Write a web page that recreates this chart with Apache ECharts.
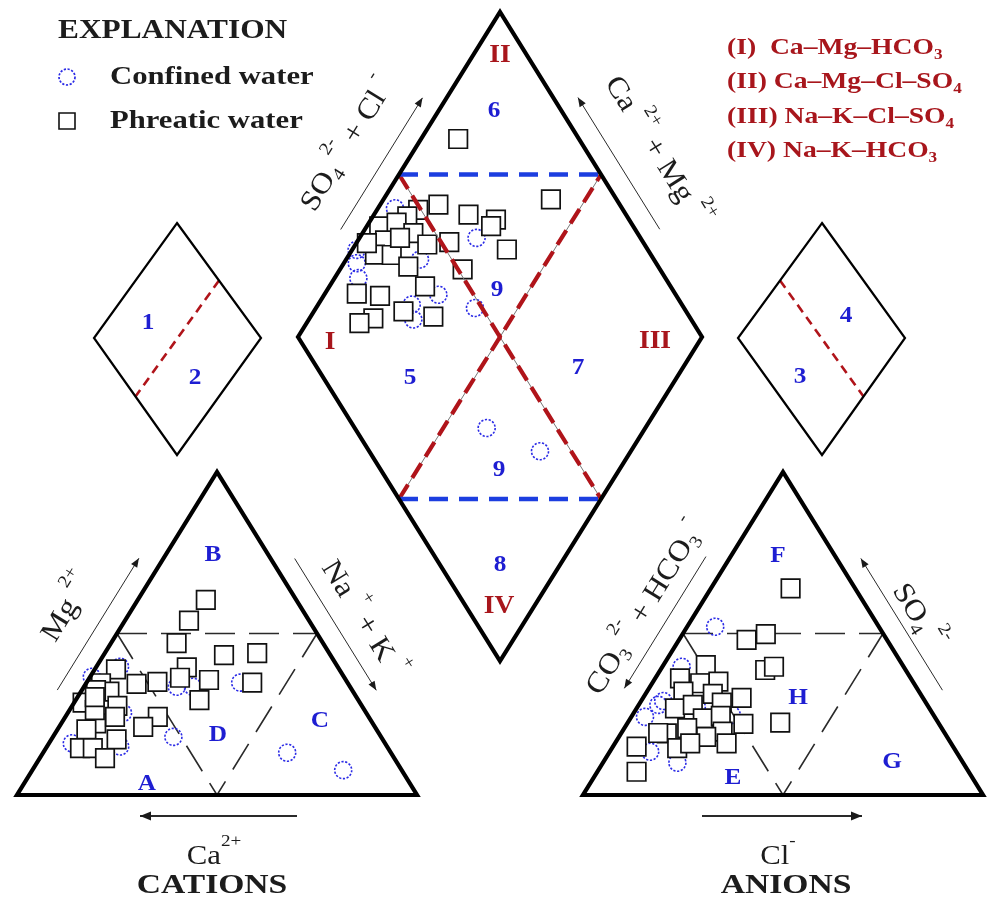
<!DOCTYPE html>
<html>
<head>
<meta charset="utf-8">
<title>Piper diagram</title>
<script src="https://cdn.jsdelivr.net/npm/echarts@6/dist/echarts.min.js"></script>
<style>
  html, body { margin: 0; padding: 0; background: #fff; }
  #chart { width: 988px; height: 904px; }
</style>
</head>
<body>
<div id="chart"></div>
<script>
// ---------------------------------------------------------------
// Sample compositions (meq %)
// Cation triangle: [Na+K, Mg]; Ca is the remainder
const cationConfined = [
  [0.4, 36.6], [5.9, 39.7], [38.4, 34.8], [30.1, 18.0], [5.7, 16.0], [18.3, 15.0],
  [23.2, 33.5], [27.2, 33.5], [61.0, 13.1], [77.7, 7.7], [13.8, 25.4]
];
const cationPhreatic = [
  [17.0, 60.4], [16.0, 54.0], [16.4, 47.0], [30.1, 43.3], [38.1, 43.9], [22.7, 39.5],
  [30.2, 35.6], [41.4, 34.8], [22.6, 36.3], [17.6, 35.0], [12.7, 34.4], [30.9, 29.4],
  [5.3, 38.9], [3.7, 34.6], [7.1, 32.0], [2.1, 28.6], [11.3, 27.6], [23.1, 24.2],
  [21.0, 21.1], [8.7, 22.2], [12.4, 24.2], [7.2, 20.3], [16.3, 17.2], [8.5, 14.5],
  [11.7, 14.5], [16.3, 11.4], [6.3, 26.3], [3.5, 32.5], [4.3, 30.3]
];
// Anion triangle: [Cl, SO4]; CO3+HCO3 is the remainder
const anionConfined = [
  [7.0, 52.1], [4.8, 39.7], [4.9, 27.9], [3.4, 24.2], [18.6, 10.0], [10.1, 13.4],
  [14.8, 27.3], [24.8, 24.8], [5.5, 29.1]
];
const anionPhreatic = [
  [19.9, 64.0], [16.9, 48.0], [20.8, 49.8], [26.2, 38.7], [27.9, 39.7], [24.6, 30.1],
  [38.1, 22.4], [29.1, 22.0], [5.9, 15.0], [9.8, 7.2], [10.6, 40.2], [6.2, 36.1],
  [12.0, 34.6], [16.3, 35.1], [9.1, 32.0], [16.8, 31.3], [9.6, 26.8], [13.5, 27.9],
  [20.4, 28.6], [18.1, 23.7], [22.2, 24.5], [11.4, 19.1], [15.7, 20.7], [25.1, 19.6],
  [16.3, 14.5], [21.8, 18.0], [18.8, 16.0], [27.9, 16.0], [9.2, 19.2]
];
// Central diamond: [Na+K, SO4+Cl]
const diamondConfined = [
  [4.2, 43.8], [29.0, 59.4], [28.3, 41.2], [39.4, 48.2], [1.1, 27.9], [3.2, 25.9],
  [5.9, 24.0], [25.9, 31.2], [23.2, 33.1], [18.3, 42.1], [60.8, 32.6], [77.6, 42.2]
];
const diamondPhreatic = [
  [9.2, 70.1], [41.5, 83.7], [14.4, 55.1], [23.4, 61.0], [31.0, 67.0], [30.8, 64.8],
  [10.2, 49.3], [8.5, 45.6], [3.1, 37.1], [6.8, 42.0], [12.6, 44.5], [17.8, 46.2],
  [22.9, 52.0], [6.7, 36.4], [6.4, 31.7], [10.6, 35.8], [16.5, 38.1], [30.4, 51.1],
  [38.3, 65.1], [23.7, 39.2], [7.9, 21.2], [14.0, 26.6], [22.2, 30.0], [30.4, 36.6],
  [15.8, 21.5], [13.1, 17.3], [2.6, 31.5], [10.0, 40.5]
];

const seriesNames = ['Confined water', 'Phreatic water'];
const cationRegions = ['A', 'B', 'C', 'D'];
const anionRegions = ['E', 'F', 'G', 'H'];
const waterTypes = ['(I)  Ca–Mg–HCO|3', '(II) Ca–Mg–Cl–SO|4', '(III) Na–K–Cl–SO|4', '(IV) Na–K–HCO|3'];

// ---------------------------------------------------------------
// Plot frame geometry (axis units = pixels of the drawing area)
const CAT = { l: [17, 795], r: [417, 795], t: [217, 472] };
const AN = { l: [583, 795], r: [983, 795], t: [783, 472] };
const DIA = { l: [298, 337], b: [500, 661], t: [500, 12], r: [702, 337] };
const SL = { t: [177, 223], l: [94, 338], r: [261, 338], b: [177, 455] };
const SR = { t: [822, 223], l: [738, 338], r: [905, 338], b: [822, 455] };

const mid = (a, b) => [(a[0] + b[0]) / 2, (a[1] + b[1]) / 2];

// ternary -> plane: share a toward right vertex, share b toward top vertex
function triPoint(T) {
  return function (v) {
    const a = v[0] / 100, b = v[1] / 100;
    return [T.l[0] + a * (T.r[0] - T.l[0]) + b * (T.t[0] - T.l[0]),
            T.l[1] + a * (T.r[1] - T.l[1]) + b * (T.t[1] - T.l[1])];
  };
}
function diaPoint(v) {
  const u = v[0] / 100, w = v[1] / 100;
  return [DIA.l[0] + u * (DIA.b[0] - DIA.l[0]) + w * (DIA.t[0] - DIA.l[0]),
          DIA.l[1] + u * (DIA.b[1] - DIA.l[1]) + w * (DIA.t[1] - DIA.l[1])];
}

// ---------------------------------------------------------------
// Colours
const BLUE = '#1e1ed2';
const RED = '#a8161c';
const CIRCLE = '#2b2be6';

function scatter(name, data, conv, square) {
  return {
    type: 'scatter',
    name: name,
    data: data.map(conv),
    symbol: square ? 'rect' : 'circle',
    symbolSize: square ? 18.5 : 17,
    itemStyle: square
      ? { color: '#ffffff', borderColor: '#111111', borderWidth: 1.7, opacity: 1 }
      : { color: 'rgba(255,255,255,0)', borderColor: CIRCLE, borderWidth: 1.6, borderType: [2.2, 1.6], opacity: 1 },
    z: square ? 4 : 3,
    silent: true,
    animation: false
  };
}

// ---------------------------------------------------------------
// Text helpers: parts are [text, kind] with kind '' | '^' (superscript) | '_' (subscript)
const FAM = '"Liberation Serif", "Times New Roman", Times, serif';
const mctx = document.createElement('canvas').getContext('2d');
function textWidth(t, font) { mctx.font = font; return mctx.measureText(t).width; }

function label(parts, o) {
  const size = o.size, weight = o.weight || 'normal', color = o.color || '#1a1a1a';
  const kids = [];
  let x = 0;
  parts.forEach(function (p) {
    const t = p[0], k = p[1] || '';
    const s = k ? size * 0.62 : size;
    const font = weight + ' ' + s.toFixed(1) + 'px ' + FAM;
    const dy = k === '^' ? -size * 0.55 : (k === '_' ? size * 0.3 : 0);
    kids.push({ type: 'text', x: x, y: dy, z: 20,
      style: { text: t, font: font, fill: color, textAlign: 'left', textVerticalAlign: 'middle' } });
    x += textWidth(t, font);
  });
  const shift = o.anchor === 'left' ? 0 : x / 2;
  kids.forEach(function (k) { k.x -= shift; });
  return { type: 'group', x: o.x, y: o.y, rotation: (o.rot || 0) * Math.PI / 180,
    scaleX: o.sx || 1, z: 20, children: kids };
}
function plain(t, x, y, size, color, weight, sx) {
  return label([[t, '']], { x: x, y: y, size: size, color: color, weight: weight || 'bold', sx: sx || 1.1 });
}

// Edge frame: reading direction d and outward normal n
function frame(p0, p1) {
  const dx = p1[0] - p0[0], dy = p1[1] - p0[1], L = Math.hypot(dx, dy);
  const d = [dx / L, dy / L];
  return { m: mid(p0, p1), d: d, n: [d[1], -d[0]], rot: Math.atan2(-dy, dx) * 180 / Math.PI };
}
function edgeLabel(p0, p1, parts, out, along, size) {
  const f = frame(p0, p1);
  return label(parts, { x: f.m[0] + along * f.d[0] + out * f.n[0], y: f.m[1] + along * f.d[1] + out * f.n[1],
    rot: f.rot, size: size, sx: 1.1, weight: 'normal', color: '#1c1c1c' });
}
function arrow(c, d, n, len, head, width, hl, hw) {
  const a = [c[0] - d[0] * len / 2, c[1] - d[1] * len / 2];
  const b = [c[0] + d[0] * len / 2, c[1] + d[1] * len / 2];
  const tip = head > 0 ? b : a;
  const sd = head > 0 ? d : [-d[0], -d[1]];
  const L = hl || 9, W = hw || 3.6;
  const base = [tip[0] - sd[0] * L, tip[1] - sd[1] * L];
  return [
    { type: 'polyline', z: 20, shape: { points: [a, b] }, style: { stroke: '#2a2a2a', lineWidth: width || 1, fill: 'none' } },
    { type: 'polygon', z: 20, shape: { points: [tip, [base[0] + n[0] * W, base[1] + n[1] * W], [base[0] - n[0] * W, base[1] - n[1] * W]] },
      style: { fill: '#1a1a1a', stroke: 'none' } }
  ];
}
function edgeArrow(p0, p1, out, along, head) {
  const f = frame(p0, p1);
  const c = [f.m[0] + along * f.d[0] + out * f.n[0], f.m[1] + along * f.d[1] + out * f.n[1]];
  return arrow(c, f.d, f.n, 155, head);
}

function poly(points, stroke, width, dash, z, closed) {
  return { type: closed ? 'polygon' : 'polyline', z: z, shape: { points: points },
    style: { stroke: stroke, lineWidth: width, fill: 'none', lineDash: dash || null, lineJoin: 'miter', miterLimit: 10 } };
}

// ---------------------------------------------------------------
const g = [];

// Frames
g.push(poly([CAT.l, CAT.r, CAT.t], '#000', 4.2, null, 10, true));
g.push(poly([AN.l, AN.r, AN.t], '#000', 4.2, null, 10, true));
g.push(poly([DIA.l, DIA.b, DIA.r, DIA.t], '#000', 4.2, null, 10, true));
g.push(poly([SL.t, SL.r, SL.b, SL.l], '#000', 2.2, null, 10, true));
g.push(poly([SR.t, SR.r, SR.b, SR.l], '#000', 2.2, null, 10, true));

// Sub-fields of the triangles
[CAT, AN].forEach(function (T) {
  const a = mid(T.l, T.t), b = mid(T.r, T.t), c = mid(T.l, T.r);
  g.push(poly([a, b], '#2a2a2a', 1.6, [30, 14], 1));
  g.push(poly([a, c, b], '#2a2a2a', 1.6, [30, 14], 1));
});

// Sub-fields of the diamond
const dLT = mid(DIA.l, DIA.t), dTR = mid(DIA.t, DIA.r), dLB = mid(DIA.l, DIA.b), dBR = mid(DIA.b, DIA.r);
const dC = mid(DIA.l, DIA.r);
g.push(poly([dLT, dC, dTR], '#777', 1, null, 7));
g.push(poly([dLB, dC, dBR], '#777', 1, null, 7));
g.push(poly([dLT, dC, dTR], '#b0141a', 4.2, [17, 8], 8));
g.push(poly([dLB, dC, dBR], '#b0141a', 4.2, [17, 8], 8));
g.push(poly([dLT, dTR], '#1c3ee0', 4.5, [19, 11], 9));
g.push(poly([dLB, dBR], '#1c3ee0', 4.5, [19, 11], 9));

// Mid-lines of the small diamonds
g.push(poly([mid(SL.t, SL.r), mid(SL.l, SL.b)], '#b0141a', 2.6, [9, 6], 9));
g.push(poly([mid(SR.l, SR.t), mid(SR.r, SR.b)], '#b0141a', 2.6, [9, 6], 9));

// Axis arrows and labels along the edges
g.push.apply(g, edgeArrow(CAT.l, CAT.t, 21, -2, 1));
g.push.apply(g, edgeArrow(CAT.t, CAT.r, 20.5, 2, 1));
g.push.apply(g, edgeArrow(DIA.l, DIA.t, 20.5, 0, 1));
g.push.apply(g, edgeArrow(DIA.t, DIA.r, 21, 0, -1));
g.push.apply(g, edgeArrow(AN.l, AN.t, 21, 0, -1));
g.push.apply(g, edgeArrow(AN.t, AN.r, 20.7, 2, -1));

g.push(edgeLabel(CAT.l, CAT.t, [['Mg ', ''], ['2+', '^']], 55, -4, 29));
g.push(edgeLabel(CAT.t, CAT.r, [['Na ', ''], ['+', '^'], [' + K ', ''], ['+', '^']], 46, 12, 29));
g.push(edgeLabel(DIA.l, DIA.t, [['SO', ''], ['4', '_'], [' 2-', '^'], [' + Cl ', ''], ['-', '^']], 59, -2, 29));
g.push(edgeLabel(DIA.t, DIA.r, [['Ca ', ''], ['2+', '^'], [' + Mg ', ''], ['2+', '^']], 59, 10, 29));
g.push(edgeLabel(AN.l, AN.t, [['CO', ''], ['3', '_'], [' 2-', '^'], [' + HCO', ''], ['3', '_'], [' -', '^']], 45, 2, 29));
g.push(edgeLabel(AN.t, AN.r, [['SO', ''], ['4', '_'], [' 2-', '^']], 38, 4, 29));

// Bottom axis arrows and titles
g.push.apply(g, arrow([218.5, 816], [1, 0], [0, 1], 157, -1, 1.8, 11, 4.5));
g.push.apply(g, arrow([782, 816], [1, 0], [0, 1], 160, 1, 1.8, 11, 4.5));
g.push(label([['Ca', ''], ['2+', '^']], { x: 214, y: 857, size: 28, sx: 1.1, color: '#1c1c1c' }));
g.push(label([['Cl', ''], ['-', '^']], { x: 778, y: 857, size: 28, sx: 1.1, color: '#1c1c1c' }));
g.push(plain('CATIONS', 212, 886, 28, '#1c1c1c', 'bold', 1.2));
g.push(plain('ANIONS', 786, 886, 28, '#1c1c1c', 'bold', 1.2));

// Region labels
g.push(plain('II', 500, 56, 25, RED));
g.push(plain('I', 330, 343, 25, RED));
g.push(plain('III', 655, 342, 25, RED));
g.push(plain('IV', 499, 607, 25, RED));
[['6', 494, 111], ['9', 497, 290], ['5', 410, 378], ['7', 578, 368], ['9', 499, 470], ['8', 500, 565],
 ['1', 148, 323], ['2', 195, 378], ['4', 846, 316], ['3', 800, 377]].forEach(function (p) {
  g.push(plain(p[0], p[1], p[2], 23, BLUE));
});
[[cationRegions[0], 147, 784], [cationRegions[1], 213, 555], [cationRegions[2], 320, 721], [cationRegions[3], 218, 735],
 [anionRegions[0], 733, 778], [anionRegions[1], 778, 556], [anionRegions[2], 892, 762], [anionRegions[3], 798, 698]].forEach(function (p) {
  g.push(plain(p[0], p[1], p[2], 23, BLUE));
});

// Explanation block
g.push(label([['EXPLANATION', '']], { x: 58, y: 31, size: 27, weight: 'bold', anchor: 'left', sx: 1.16, color: '#1c1c1c' }));
g.push({ type: 'circle', z: 20, shape: { cx: 67, cy: 77, r: 8 },
  style: { fill: 'none', stroke: CIRCLE, lineWidth: 1.7, lineDash: [2.2, 1.6] } });
g.push({ type: 'rect', z: 20, shape: { x: 59, y: 113, width: 16, height: 16 },
  style: { fill: '#fff', stroke: '#111', lineWidth: 1.6 } });
g.push(label([[seriesNames[0], '']], { x: 110, y: 77, size: 26, weight: 'bold', anchor: 'left', sx: 1.18, color: '#1c1c1c' }));
g.push(label([[seriesNames[1], '']], { x: 110, y: 121, size: 26, weight: 'bold', anchor: 'left', sx: 1.18, color: '#1c1c1c' }));

// Hydrochemical facies key
waterTypes.forEach(function (t, i) {
  const s = t.split('|');
  g.push(label([[s[0], ''], [s[1], '_']], { x: 727, y: 48 + i * 34.5, size: 23, weight: 'bold', anchor: 'left', sx: 1.2, color: RED }));
});

// ---------------------------------------------------------------
const chart = echarts.init(document.getElementById('chart'), null, { renderer: 'canvas' });
chart.setOption({
  animation: false,
  backgroundColor: '#ffffff',
  grid: { left: 0, right: 0, top: 0, bottom: 0, containLabel: false },
  xAxis: { type: 'value', min: 0, max: 988, show: false },
  yAxis: { type: 'value', min: 0, max: 904, inverse: true, show: false },
  series: [
    scatter(seriesNames[0], cationConfined, triPoint(CAT), false),
    scatter(seriesNames[0], anionConfined, triPoint(AN), false),
    scatter(seriesNames[0], diamondConfined, diaPoint, false),
    scatter(seriesNames[1], cationPhreatic, triPoint(CAT), true),
    scatter(seriesNames[1], anionPhreatic, triPoint(AN), true),
    scatter(seriesNames[1], diamondPhreatic, diaPoint, true)
  ],
  graphic: { elements: g }
});
</script>
</body>
</html>
